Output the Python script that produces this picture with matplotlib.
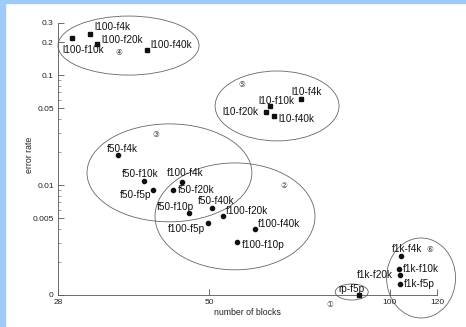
import matplotlib.pyplot as plt
from matplotlib.patches import Ellipse, Rectangle
from matplotlib.ticker import FixedLocator, LogLocator, NullLocator, NullFormatter

plt.rcParams['font.family'] = ['Liberation Sans', 'DejaVu Sans']

# Datos (eje y logaritmico, el "0" del eje es 0.001)
names = ['l100-f4k', 'l100-f10k', 'l100-f20k', 'l100-f40k',
         'l10-f4k', 'l10-f10k', 'l10-f20k', 'l10-f40k',
         'f50-f4k', 'f50-f10k', 'f50-f5p', 'f50-f20k', 'f50-f10p', 'f50-f40k',
         'f100-f4k', 'f100-f20k', 'f100-f5p', 'f100-f40k', 'f100-f10p',
         'f1k-f4k', 'f1k-f10k', 'f1k-f20k', 'f1k-f5p', 'rp-f5p']
blocks = [31.7, 29.6, 32.5, 39.4,
          71.2, 63.2, 62.2, 64.2,
          35.3, 38.9, 40.3, 43.5, 46.3, 50.6,
          45.1, 52.8, 49.9, 59.7, 55.7,
          104.5, 103.8, 104.1, 104.1, 88.9]
error_rate = [0.236, 0.217, 0.195, 0.172,
              0.0605, 0.0523, 0.0461, 0.0424,
              0.0187, 0.0109, 0.0090, 0.0090, 0.00553, 0.00622,
              0.0107, 0.00523, 0.00454, 0.00401, 0.00303,
              0.00226, 0.00173, 0.00151, 0.00126, 0.001]
square_marks = ['l100-f4k', 'l100-f10k', 'l100-f20k', 'l100-f40k',
                'l10-f4k', 'l10-f10k', 'l10-f20k', 'l10-f40k', 'rp-f5p']

# desplazamiento de las etiquetas (pixeles) y alineacion
label_pos = {
    'l100-f4k': (4, 7, 'left'), 'l100-f10k': (-10, -12, 'left'),
    'l100-f20k': (5, 4, 'left'), 'l100-f40k': (3, 5, 'left'),
    'l10-f4k': (-10, 7, 'left'), 'l10-f10k': (-12, 5, 'left'),
    'l10-f20k': (-8, 0, 'right'), 'l10-f40k': (4, -3, 'left'),
    'f50-f4k': (-11, 6, 'left'), 'f50-f10k': (-22, 7, 'left'),
    'f50-f5p': (-1, -5, 'right'), 'f50-f20k': (5, 0, 'left'),
    'f50-f10p': (-32, 6, 'left'), 'f50-f40k': (-14, 7, 'left'),
    'f100-f4k': (-15, 9, 'left'), 'f100-f20k': (3, 5, 'left'),
    'f100-f5p': (-4, -6, 'right'), 'f100-f40k': (3, 5, 'left'),
    'f100-f10p': (5, -3, 'left'),
    'f1k-f4k': (-9, 7, 'left'), 'f1k-f10k': (4, 0, 'left'),
    'f1k-f20k': (-7, 0, 'right'), 'f1k-f5p': (4, 0, 'left'),
    'rp-f5p': (-21, 6, 'left'),
}

# grupos: (centro x, centro y, ancho, alto) en fraccion de ejes
groups = [(0.775, 0.011, 0.087, 0.059), (0.467, 0.289, 0.422, 0.393),
          (0.294, 0.449, 0.435, 0.360), (0.186, 0.917, 0.372, 0.217),
          (0.578, 0.695, 0.327, 0.257), (0.958, 0.0625, 0.182, 0.294)]
group_ids = ['①', '②', '③', '④', '⑤', '⑥']
id_pos = [(0.716, -0.040), (0.597, 0.398), (0.259, 0.585),
          (0.161, 0.886), (0.486, 0.772), (0.980, 0.163)]

fig = plt.figure(figsize=(4.66, 3.27), dpi=100)
fig.patches.append(Rectangle((0, 0), 5 / 466, 1, transform=fig.transFigure,
                             color='#9ecbf7', zorder=0))
fig.patches.append(Rectangle((0, 1 - 2.5 / 327), 1, 2.5 / 327,
                             transform=fig.transFigure, color='#9ecbf7', zorder=0))

ax = fig.add_axes([0.1245, 0.0979, 0.8133, 0.8318])
ax.set_xscale('log')
ax.set_yscale('log')
ax.set_xlim(28, 120)
ax.set_ylim(0.001, 0.3)

for n, x, y in zip(names, blocks, error_rate):
    m = 's' if n in square_marks else 'o'
    ax.plot(x, y, marker=m, ms=3, color='#111111', ls='none', clip_on=False, zorder=3)
    dx, dy, ha = label_pos[n]
    ax.annotate(n, (x, y), xytext=(dx, dy), textcoords='offset pixels',
                ha=ha, va='center', fontsize=7.2, color='#111111')

for (cx, cy, w, h) in groups:
    ax.add_patch(Ellipse((cx, cy), w, h, transform=ax.transAxes, fill=False,
                         lw=0.6, ec='#666666', clip_on=False))

for t, (px, py) in zip(group_ids, id_pos):
    ax.text(px, py, t, transform=ax.transAxes, ha='center', va='center',
            fontsize=5.5, color='#333333', clip_on=False)

ax.xaxis.set_major_locator(FixedLocator([28, 50, 100, 120]))
ax.xaxis.set_minor_locator(NullLocator())
ax.set_xticklabels(['28', '50', '100', '120'])
ax.yaxis.set_major_locator(FixedLocator([0.001, 0.005, 0.01, 0.05, 0.1, 0.2, 0.3]))
ax.set_yticklabels(['0', '0.005', '0.01', '0.05', '0.1', '0.2', '0.3'])
ax.yaxis.set_minor_locator(LogLocator(subs=range(2, 10)))
ax.yaxis.set_minor_formatter(NullFormatter())

ax.tick_params(which='major', direction='in', length=4, width=0.6, labelsize=6,
               pad=3, color='#555555', labelcolor='#222222')
ax.tick_params(which='minor', direction='in', length=2, width=0.5, color='#777777')
for s in ['top', 'right']:
    ax.spines[s].set_visible(False)
for s in ['left', 'bottom']:
    ax.spines[s].set_linewidth(0.6)
    ax.spines[s].set_color('#555555')

ax.set_xlabel('number of blocks', fontsize=6.3, color='#222222')
ax.set_ylabel('error rate', fontsize=6.3, color='#222222')
ax.xaxis.set_label_coords(0.5, -0.048)
ax.yaxis.set_label_coords(-0.063, 0.515)

fig.savefig('out.png', dpi=100)
